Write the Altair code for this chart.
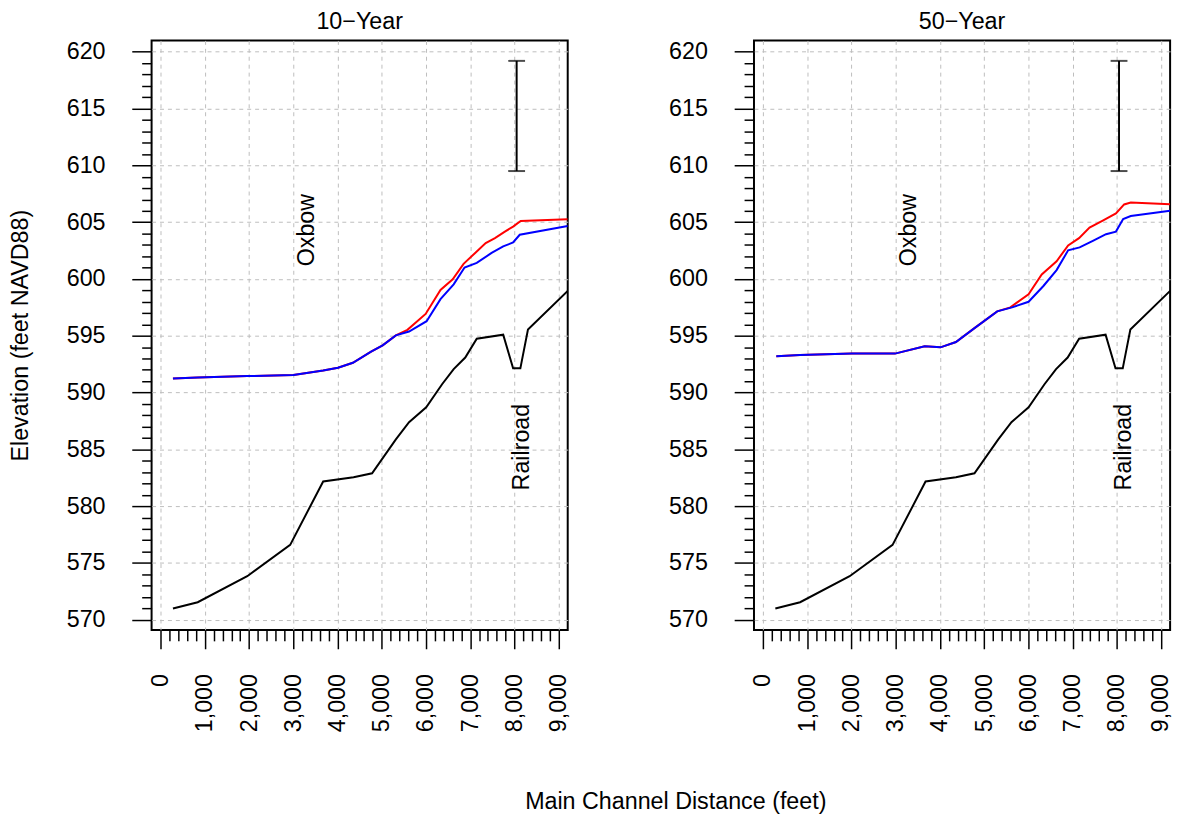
import altair as alt
import pandas as pd

FONT = "Liberation Sans"
FS = 23.5

# Channel / railroad ground profile (same survey in both panels)
ground_x = [278, 838, 1958, 2929, 3675, 4362, 4781, 5319, 5617, 6005, 6364, 6626,
            6888, 7148, 7746, 7970, 8134, 8306, 9205]
ground_y = [570.99, 571.54, 573.83, 576.59, 582.17, 582.54, 582.89, 585.88, 587.39,
            588.70, 590.73, 592.07, 593.08, 594.74, 595.09, 592.13, 592.13, 595.55, 598.95]

# 10-year water surface profiles
y10_blue_x = [278, 838, 1958, 3003, 3675, 4011, 4347, 4759, 5020, 5319, 5617, 6014,
              6328, 6626, 6872, 7148, 7484, 7746, 7970, 8120, 9205]
y10_blue_y = [591.23, 591.32, 591.45, 591.54, 591.95, 592.19, 592.62, 593.61, 594.16,
              595.03, 595.37, 596.28, 598.22, 599.53, 601.01, 601.42, 602.29, 602.87,
              603.21, 603.89, 604.67]
y10_red_x = [278, 838, 1958, 3003, 3675, 4011, 4347, 4759, 5020, 5319, 5580, 5992,
             6328, 6604, 6850, 7112, 7350, 7560, 7784, 7970, 8142, 9205]
y10_red_y = [591.23, 591.32, 591.45, 591.54, 591.95, 592.19, 592.62, 593.61, 594.16,
             595.03, 595.52, 596.92, 599.03, 599.97, 601.33, 602.29, 603.16, 603.60,
             604.17, 604.61, 605.10, 605.25]

# 50-year water surface profiles
y50_blue_x = [300, 838, 2013, 2984, 3655, 4013, 4362, 4774, 5295, 5631, 6004, 6340,
              6638, 6899, 7159, 7458, 7756, 7980, 8143, 8315, 9205]
y50_blue_y = [593.20, 593.30, 593.43, 593.43, 594.07, 593.98, 594.45, 595.65, 597.15,
              597.50, 597.99, 599.38, 600.78, 602.52, 602.78, 603.36, 603.94, 604.17,
              605.28, 605.54, 606.00]
y50_red_x = [300, 838, 2013, 2984, 3655, 4013, 4362, 4774, 5295, 5593, 6004, 6302,
             6638, 6899, 7145, 7383, 7682, 7980, 8166, 8315, 9205]
y50_red_y = [593.20, 593.30, 593.43, 593.43, 594.07, 593.98, 594.45, 595.65, 597.15,
             597.50, 598.66, 600.40, 601.56, 602.95, 603.59, 604.52, 605.13, 605.77,
             606.56, 606.73, 606.58]

# Vertical scale bar and annotations
bar_x = 8050
bar_lo, bar_hi = 609.5, 619.2
labels = ["Oxbow", "Railroad"]
label_x = [3300, 8175]
label_y = [604.3, 585.2]

X_DOMAIN = [-205, 9205]
Y_DOMAIN = [569.1, 621.0]


def series(name, xs, ys):
    return pd.DataFrame({"dist": xs, "elev": ys, "series": name, "order": range(len(xs))})


def panel(title, red, blue, y_title):
    xs = alt.Scale(domain=X_DOMAIN, nice=False, zero=False)
    ys = alt.Scale(domain=Y_DOMAIN, nice=False, zero=False)
    x_major = "datum.value % 1000 == 0"
    y_major = "datum.value % 5 == 0"
    x_axis = alt.Axis(
        values=list(range(0, 9001, 200)),
        labelExpr=f"{x_major} ? format(datum.value, ',') : ''",
        labelAngle=-90, labelFlush=False, labelOverlap=False, labelBound=False,
        labelPadding=25,
        tickSize={"condition": {"test": x_major, "value": 19}, "value": 11},
        tickColor="black", tickWidth=1.5, domain=False,
        grid=True, gridColor="#BDBDBD", gridDash=[4, 4], gridWidth=1,
        gridOpacity={"condition": {"test": x_major, "value": 1}, "value": 0},
        title=None,
    )
    y_axis = alt.Axis(
        values=list(range(570, 621)),
        labelExpr=f"{y_major} ? datum.label : ''",
        labelFlush=False, labelOverlap=False, labelBound=False, labelPadding=27,
        tickSize={"condition": {"test": y_major, "value": 20}, "value": 10},
        tickColor="black", tickWidth=1.5, domain=False,
        grid=True, gridColor="#BDBDBD", gridDash=[4, 4], gridWidth=1,
        gridOpacity={"condition": {"test": y_major, "value": 1}, "value": 0},
        title=y_title if y_title else None, titlePadding=34,
    )
    base_x = alt.X("dist:Q", scale=xs, axis=x_axis)
    base_y = alt.Y("elev:Q", scale=ys, axis=y_axis)

    lines = pd.concat([series("ground", ground_x, ground_y),
                       series("red", red[0], red[1]),
                       series("blue", blue[0], blue[1])])
    layers = []
    for name, color in [("ground", "black"), ("red", "#FF0000"), ("blue", "#0000FF")]:
        layers.append(
            alt.Chart(lines[lines.series == name])
            .mark_line(color=color, strokeWidth=2, clip=True)
            .encode(x=base_x, y=base_y, order="order:Q")
        )

    bar_df = pd.DataFrame({"dist": [bar_x], "lo": [bar_lo], "hi": [bar_hi]})
    layers.append(
        alt.Chart(bar_df).mark_rule(color="black", strokeWidth=2)
        .encode(x=base_x, y=alt.Y("lo:Q", scale=ys, axis=y_axis), y2="hi:Q")
    )
    caps = pd.DataFrame({"dist": [bar_x, bar_x], "elev": [bar_lo, bar_hi]})
    layers.append(
        alt.Chart(caps).mark_tick(color="black", orient="horizontal", size=17, thickness=2)
        .encode(x=base_x, y=base_y)
    )
    text_df = pd.DataFrame({"dist": label_x, "elev": label_y, "txt": labels})
    layers.append(
        alt.Chart(text_df)
        .mark_text(angle=270, font=FONT, fontSize=FS, color="black",
                   align="center", baseline="middle")
        .encode(x=base_x, y=base_y, text="txt:N")
    )
    return alt.layer(*layers).properties(
        width=420, height=595,
        title=alt.TitleParams(title, font=FONT, fontSize=FS, fontWeight="normal",
                              anchor="middle", offset=6, color="black"),
    )


left = panel("10\u2212Year", (y10_red_x, y10_red_y), (y10_blue_x, y10_blue_y),
             "Elevation (feet NAVD88)")
right = panel("50\u2212Year", (y50_red_x, y50_red_y), (y50_blue_x, y50_blue_y), None)

chart = (
    alt.hconcat(left, right, spacing=96)
    .properties(
        title=alt.TitleParams("Main Channel Distance (feet)", orient="bottom",
                              anchor="middle", font=FONT, fontSize=FS,
                              fontWeight="normal", offset=58, dx=86, color="black"),
        padding={"left": 7, "top": 5, "right": 8, "bottom": 0},
        background="white",
    )
    .configure_view(stroke="black", strokeWidth=2)
    .configure_axis(labelFont=FONT, labelFontSize=FS, labelColor="black",
                    titleFont=FONT, titleFontSize=FS, titleFontWeight="normal",
                    titleColor="black")
)

chart.save("out.html", embed_options={"renderer": "svg", "actions": False})
